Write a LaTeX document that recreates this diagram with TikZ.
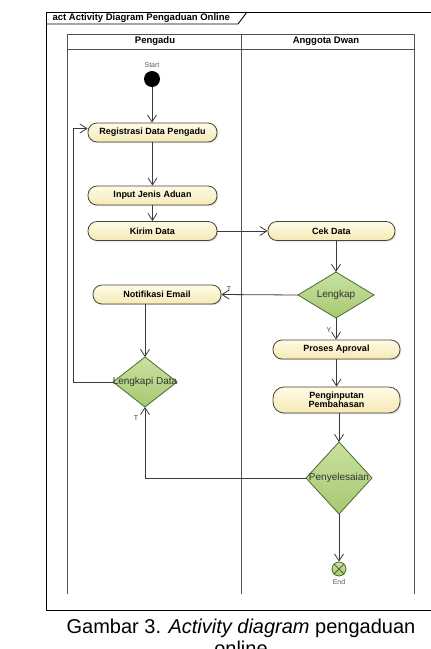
\documentclass[tikz,border=0pt]{standalone}
\usepackage{fontspec}
\setmainfont{Liberation Sans}
\usetikzlibrary{arrows.meta,shapes.geometric,shadows}
\definecolor{acttop}{HTML}{FFFBE6}
\definecolor{actbot}{HTML}{F4E9B6}
\definecolor{actdraw}{HTML}{4A4532}
\definecolor{dectop}{HTML}{C9E2A0}
\definecolor{decbot}{HTML}{A6C872}
\definecolor{decdraw}{HTML}{4E6A2E}
\definecolor{lineclr}{HTML}{3C3C3C}
\definecolor{laneclr}{HTML}{505050}
\begin{document}
\begin{tikzpicture}[x=1pt,y=-1pt,
  actbox/.style={draw=actdraw, top color=acttop, bottom color=actbot, line width=0.8pt, rounded corners=9pt,
    minimum width=129pt, minimum height=19pt, inner sep=1pt, align=center,
    font=\bfseries\fontsize{9}{10}\selectfont,
    drop shadow={shadow xshift=1.2pt, shadow yshift=-1.2pt, opacity=0.25}},
  decbox/.style={diamond, draw=decdraw, top color=dectop, bottom color=decbot, line width=0.8pt, inner sep=0pt, outer sep=0pt},
  dectext/.style={font=\fontsize{10}{11}\selectfont, text=black!80},
  flow/.style={draw=lineclr, line width=0.8pt, -{Straight Barb[length=7pt,width=9pt]}},
  lane/.style={draw=laneclr, line width=1pt},
  small/.style={font=\fontsize{7}{8}\selectfont, text=black!65},
  guard/.style={font=\fontsize{7}{8}\selectfont, text=black!75},
  header/.style={font=\bfseries\fontsize{9.5}{10}\selectfont}]
\useasboundingbox (0,0) rectangle (431,649);
\fill[white] (0,0) rectangle (431,649);
% frame
\draw[black, line width=0.9pt] (431,12) -- (46,12) -- (46,610) -- (431,610);
\draw[black, line width=0.9pt] (46,24) -- (238,24) -- (247,12);
\node[anchor=west, font=\bfseries\fontsize{9.5}{10}\selectfont] (title) at (49,18.5) {act Activity Diagram Pengaduan Online};
% lanes
\draw[lane] (67,34) rectangle (414,49);
\draw[lane] (67,49) -- (67,594);
\draw[lane] (241,34) -- (241,594);
\draw[lane] (414,49) -- (414,594);
\node[header] (h1) at (155,41.5) {Pengadu};
\node[header] (h2) at (326,41.5) {Anggota Dwan};
% start / end
\node[circle, fill=black, minimum size=16pt, inner sep=0pt] (start) at (152,79) {};
\node[small] (startl) at (152,65) {Start};
\node[circle, draw=decdraw, top color=dectop, bottom color=decbot, minimum size=14pt, inner sep=0pt, line width=0.8pt] (endn) at (339,569) {};
\draw[decdraw, line width=0.8pt] (endn.north west) -- (endn.south east) (endn.north east) -- (endn.south west);
\node[small] (endl) at (339,582) {End};
% activities
\node[actbox] (reg) at (152.5,132.5) {Registrasi Data Pengadu};
\node[actbox] (inp) at (152.5,195.5) {Input Jenis Aduan};
\node[actbox] (kirim) at (152.5,231) {Kirim Data};
\node[actbox, minimum width=127pt] (cek) at (331.5,231) {Cek Data};
\node[actbox, minimum width=128pt] (notif) at (157,294.5) {Notifikasi Email};
\node[actbox, minimum width=127pt] (proses) at (336.5,349.5) {Proses Aproval};
\node[actbox, minimum width=127pt, minimum height=26pt, rounded corners=11pt] (input2) at (336.5,400) {Penginputan\\[-1pt]Pembahasan};
% decisions
\node[decbox, minimum width=76pt, minimum height=46pt] (lengkap) at (336,295) {};
\node[dectext] (lengkapt) at (lengkap) {Lengkap};
\node[decbox, minimum width=64pt, minimum height=50pt] (ld) at (145,382) {};
\node[dectext] (ldt) at (ld) {Lengkapi Data};
\node[decbox, minimum width=66pt, minimum height=72pt] (selesai) at (339,478) {};
\node[dectext] (selesait) at (selesai) {Penyelesaian};
% flows
\draw[flow] (start) -- (reg.north -| start);
\draw[flow] (reg) -- (inp);
\draw[flow] (inp) -- (kirim);
\draw[flow] (kirim) -- (cek);
\draw[flow] (cek.south -| lengkap.north) -- (lengkap.north);
\draw[flow] (lengkap.west) -- (notif.east) node[guard, pos=0.9, above, yshift=-1pt] {T};
\draw[flow] (lengkap.south) -- (proses.north -| lengkap.south) node[guard, pos=0.55, left, xshift=-1pt] {Y};
\draw[flow] (proses.south -| input2.north) -- (input2.north);
\draw[flow] (input2.south -| selesai.north) -- (selesai.north);
\draw[flow] (selesai.south) -- (endn.north);
\draw[flow] (notif.south -| ld.north) -- (ld.north);
\coordinate (loopa) at (73,382);
\coordinate (loopb) at (73,128.5);
\draw[flow] (ld.west) -- (loopa) -- (loopb) -- (loopb -| reg.west);
\coordinate (backa) at (selesai.west -| ld.south);
\draw[flow] (selesai.west) -- (backa) -- (ld.south) node[guard, pos=0.85, left, xshift=-3pt] {T};
% caption
\node[anchor=base, font=\fontsize{20}{24}\selectfont] (cap1) at (241,633) {Gambar 3. \textit{Activity diagram} pengaduan};
\node[anchor=base, font=\fontsize{20}{24}\selectfont] (cap2) at (241,655) {online};
\end{tikzpicture}
\end{document}
